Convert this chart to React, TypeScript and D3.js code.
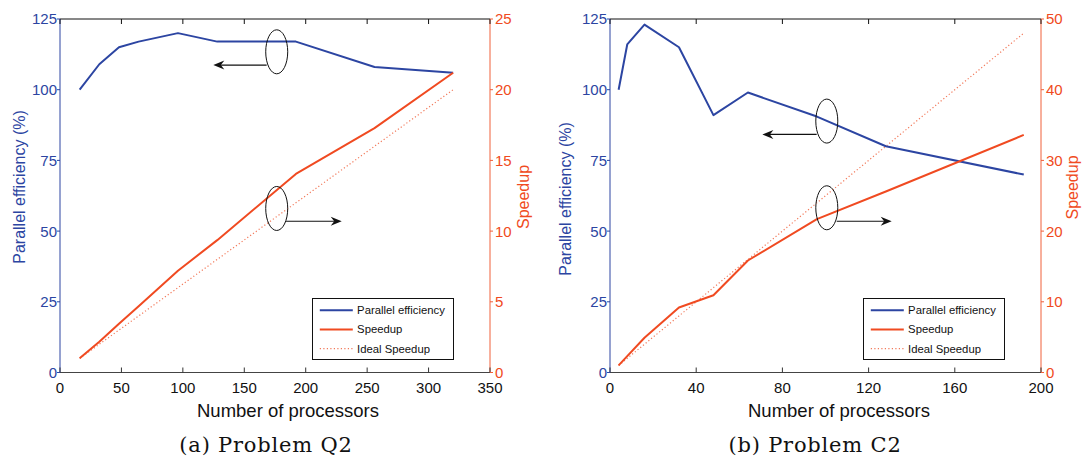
import React from 'react'
import * as d3 from 'd3'

// Problem Q2
const procsQ2 = [16, 32, 48, 64, 96, 128, 192, 256, 320]
const effQ2 = [100, 109, 115, 117, 120, 117, 117, 108, 106]
const speedQ2 = [1, 2.18, 3.45, 4.68, 7.2, 9.36, 14.04, 17.28, 21.2]
const idealQ2 = [1, 2, 3, 4, 6, 8, 12, 16, 20]

// Problem C2
const procsC2 = [4, 8, 16, 32, 48, 64, 96, 128, 192]
const effC2 = [100, 116, 123, 115, 91, 99, 90.5, 80, 70]
const speedC2 = [1, 2.32, 4.92, 9.2, 10.92, 15.84, 21.7, 25.6, 33.6]
const idealC2 = [1, 2, 4, 8, 12, 16, 24, 32, 48]

const effTicks = [0, 25, 50, 75, 100, 125]
const ticksQ2 = [0, 50, 100, 150, 200, 250, 300, 350]
const speedTicksQ2 = [0, 5, 10, 15, 20, 25]
const ticksC2 = [0, 40, 80, 120, 160, 200]
const speedTicksC2 = [0, 10, 20, 30, 40, 50]

const legendLabels = ['Parallel efficiency', 'Speedup', 'Ideal Speedup']

const BLUE = '#2c45a2'
const RED = '#f04a21'
const RED_AXIS = '#f0603a'
const SANS = 'Liberation Sans, Arial, Helvetica, sans-serif'

type PanelProps = {
  left: number
  right: number
  procs: number[]
  eff: number[]
  speed: number[]
  ideal: number[]
  xTicks: number[]
  speedTicks: number[]
  caption: string
  captionX: number
  xTitleX: number
  effTitle: [number, number]
  speedTitle: [number, number]
  // annotation anchors in data units
  upper: { x: number; eff: number; from: number; to: number; at: number }
  lower: { x: number; speed: number; from: number; to: number; at: number }
}

const top = 19
const bottom = 372.5

const Arrow = ({ x1, x2, y }: { x1: number; x2: number; y: number }) => {
  const dir = x2 > x1 ? 1 : -1
  const head = `M${x2},${y} L${x2 - dir * 11},${y - 4.5} L${x2 - dir * 7.5},${y} L${x2 - dir * 11},${y + 4.5} Z`
  return (
    <g>
      <line x1={x1} x2={x2 - dir * 7} y1={y} y2={y} stroke="#111" strokeWidth={1.1} />
      <path d={head} fill="#111" />
    </g>
  )
}

const Panel = (p: PanelProps) => {
  const x = d3.scaleLinear().domain([p.xTicks[0], p.xTicks[p.xTicks.length - 1]]).range([p.left, p.right])
  const yEff = d3.scaleLinear().domain([0, 125]).range([bottom, top])
  const ySp = d3.scaleLinear().domain([0, p.speedTicks[p.speedTicks.length - 1]]).range([bottom, top])

  const idx = p.procs.map((_, i) => i)
  const effLine = d3.line<number>().x((i) => x(p.procs[i])).y((i) => yEff(p.eff[i]))
  const spLine = d3.line<number>().x((i) => x(p.procs[i])).y((i) => ySp(p.speed[i]))
  const idLine = d3.line<number>().x((i) => x(p.procs[i])).y((i) => ySp(p.ideal[i]))

  const lgX = p.right - 36.5 - 141
  const lgY = bottom - 13 - 61

  return (
    <g>
      {/* frame */}
      <line x1={p.left} x2={p.right} y1={top} y2={top} stroke="#111" strokeWidth={1} />
      <line x1={p.left} x2={p.right} y1={bottom} y2={bottom} stroke="#444" strokeWidth={1} />
      <line x1={p.left} x2={p.left} y1={top} y2={bottom} stroke={BLUE} strokeWidth={1} />
      <line x1={p.right} x2={p.right} y1={top} y2={bottom} stroke={RED_AXIS} strokeWidth={1} />

      {/* x ticks */}
      {p.xTicks.map((t) => (
        <g key={'x' + t}>
          <line x1={x(t)} x2={x(t)} y1={bottom} y2={bottom - 5} stroke="#333" />
          <line x1={x(t)} x2={x(t)} y1={top} y2={top + 5} stroke="#111" />
          <text x={x(t)} y={392.5} textAnchor="middle" fontSize={15} fontFamily={SANS} fill="#111">
            {t}
          </text>
        </g>
      ))}

      {/* efficiency axis */}
      {effTicks.map((t) => (
        <g key={'e' + t}>
          <line x1={p.left - 3} x2={p.left} y1={yEff(t)} y2={yEff(t)} stroke={BLUE} />
          <text x={p.left - 3} y={yEff(t)} dy="0.36em" textAnchor="end" fontSize={15} fontFamily={SANS} fill={BLUE}>
            {t}
          </text>
        </g>
      ))}

      {/* speedup axis */}
      {p.speedTicks.map((t) => (
        <g key={'s' + t}>
          <line x1={p.right} x2={p.right + 3} y1={ySp(t)} y2={ySp(t)} stroke={RED_AXIS} />
          <text x={p.right + 5} y={ySp(t)} dy="0.36em" textAnchor="start" fontSize={15} fontFamily={SANS} fill={RED}>
            {t}
          </text>
        </g>
      ))}

      {/* titles */}
      <text x={p.xTitleX} y={417} textAnchor="middle" fontSize={18.5} fontFamily={SANS} fill="#111">
        Number of processors
      </text>
      <text
        transform={`translate(${p.effTitle[0]},${p.effTitle[1]}) rotate(-90)`}
        textAnchor="middle"
        dy="0.36em"
        fontSize={16}
        fontFamily={SANS}
        fill={BLUE}
      >
        Parallel efficiency (%)
      </text>
      <text
        transform={`translate(${p.speedTitle[0]},${p.speedTitle[1]}) rotate(-90)`}
        textAnchor="middle"
        dy="0.36em"
        fontSize={16}
        fontFamily={SANS}
        fill={RED}
      >
        Speedup
      </text>
      <text
        x={p.captionX}
        y={452}
        textAnchor="middle"
        fontSize={21}
        letterSpacing={0.8}
        fontFamily="DejaVu Serif, serif"
        fill="#111"
      >
        {p.caption}
      </text>

      {/* series */}
      <path d={idLine(idx) || ''} fill="none" stroke="#f2795a" strokeWidth={1.2} strokeDasharray="1.2 2.3" />
      <path d={effLine(idx) || ''} fill="none" stroke={BLUE} strokeWidth={2} strokeLinejoin="round" />
      <path d={spLine(idx) || ''} fill="none" stroke={RED} strokeWidth={2} strokeLinejoin="round" />

      {/* annotations */}
      <ellipse cx={x(p.upper.x)} cy={yEff(p.upper.eff)} rx={11} ry={22} fill="none" stroke="#111" strokeWidth={1} />
      <Arrow x1={x(p.upper.from)} x2={x(p.upper.to)} y={yEff(p.upper.at)} />
      <ellipse cx={x(p.lower.x)} cy={ySp(p.lower.speed)} rx={11} ry={22} fill="none" stroke="#111" strokeWidth={1} />
      <Arrow x1={x(p.lower.from)} x2={x(p.lower.to)} y={ySp(p.lower.at)} />

      {/* legend */}
      <rect x={lgX} y={lgY} width={141} height={61} fill="#fff" stroke="#111" strokeWidth={1} />
      {legendLabels.map((l, i) => {
        const yy = lgY + 11.7 + i * 19.2
        return (
          <g key={l}>
            <line
              x1={lgX + 7.3}
              x2={lgX + 40.3}
              y1={yy}
              y2={yy}
              stroke={i === 0 ? BLUE : i === 1 ? RED : '#f2795a'}
              strokeWidth={i === 2 ? 1.2 : 2}
              strokeDasharray={i === 2 ? '1.2 2.3' : undefined}
            />
            <text x={lgX + 44.6} y={yy} dy="0.36em" fontSize={11.3} fontFamily={SANS} fill="#111">
              {l}
            </text>
          </g>
        )
      })}
    </g>
  )
}

export default function App() {
  return (
    <svg width={1083} height={457} style={{ position: 'absolute', left: 0, top: 0, background: '#fff' }}>
      <rect width={1083} height={457} fill="#fff" />
      <Panel
        left={60}
        right={490}
        procs={procsQ2}
        eff={effQ2}
        speed={speedQ2}
        ideal={idealQ2}
        xTicks={ticksQ2}
        speedTicks={speedTicksQ2}
        caption="(a) Problem Q2"
        captionX={266}
        xTitleX={288}
        effTitle={[19, 187]}
        speedTitle={[523, 197]}
        upper={{ x: 176.4, eff: 113.4, from: 168.2, to: 124.8, at: 108.7 }}
        lower={{ x: 176.4, speed: 11.6, from: 184, to: 229.3, at: 10.7 }}
      />
      <Panel
        left={610}
        right={1041}
        procs={procsC2}
        eff={effC2}
        speed={speedC2}
        ideal={idealC2}
        xTicks={ticksC2}
        speedTicks={speedTicksC2}
        caption="(b) Problem C2"
        captionX={815}
        xTitleX={839}
        effTitle={[565, 199]}
        speedTitle={[1072.5, 187.5]}
        upper={{ x: 100.6, eff: 88.9, from: 95.9, to: 70.7, at: 84.2 }}
        lower={{ x: 100.6, speed: 23.3, from: 105.2, to: 130.7, at: 21.4 }}
      />
    </svg>
  )
}
